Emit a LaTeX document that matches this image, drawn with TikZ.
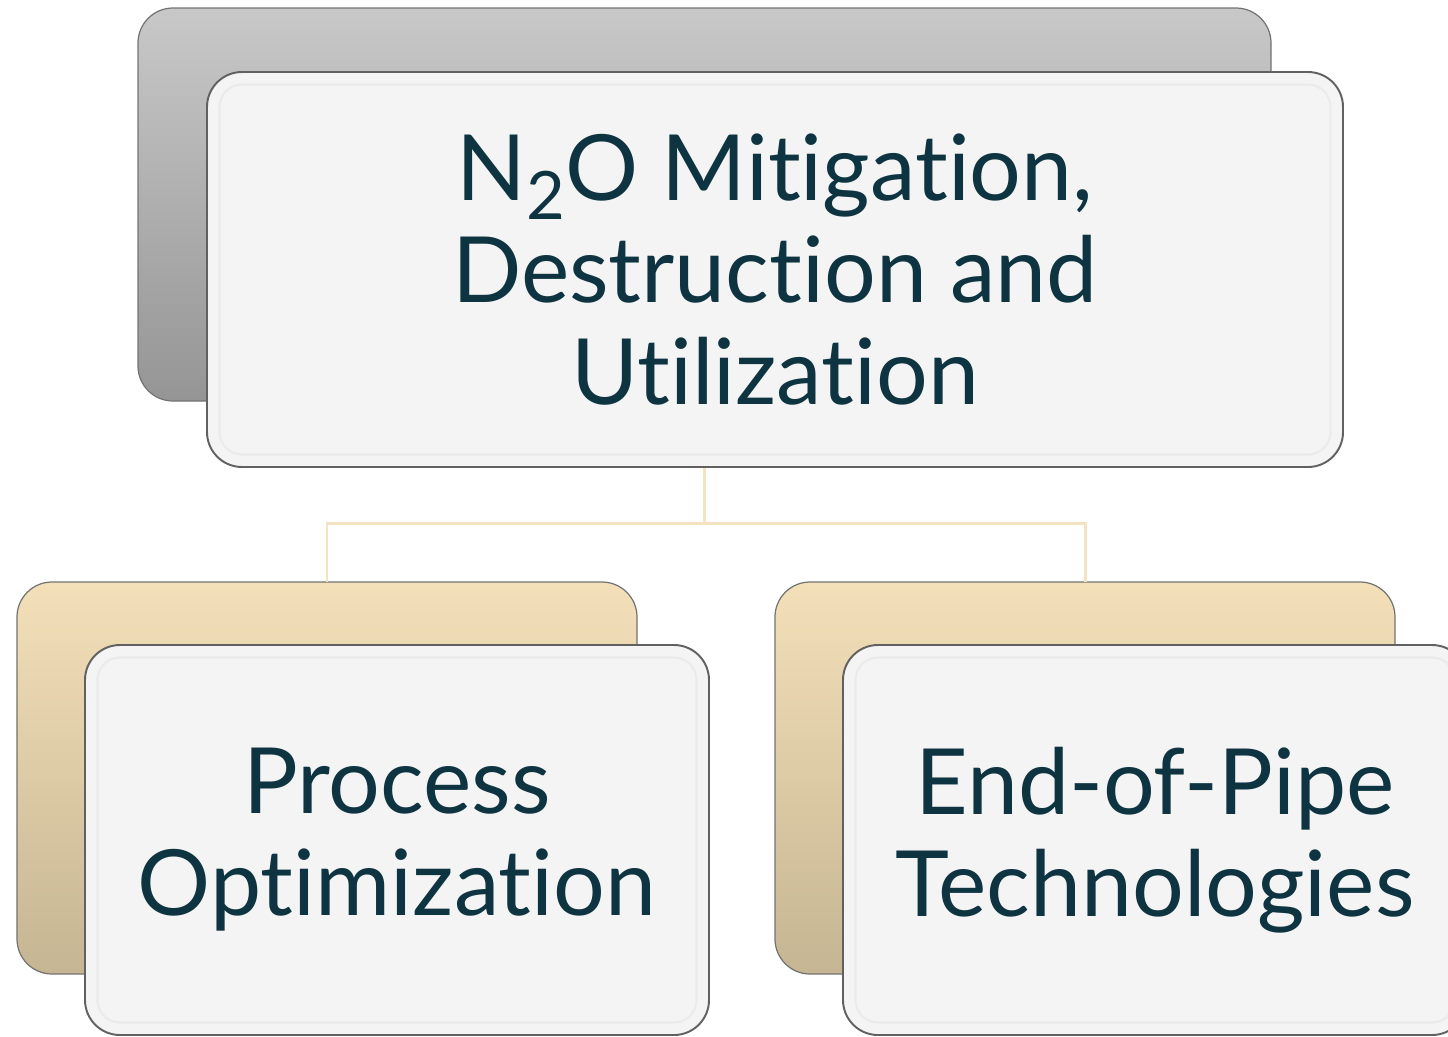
\documentclass[tikz,border=0pt]{standalone}
\usepackage{fontspec}
\setmainfont{Lato}[Ligatures={NoCommon}]
\usepackage{xcolor}
\definecolor{textcol}{HTML}{0E3441}
\definecolor{greytop}{HTML}{C8C8C8}
\definecolor{greybot}{HTML}{959595}
\definecolor{tantop}{HTML}{F3E0B9}
\definecolor{tanbot}{HTML}{C6B592}
\definecolor{frontfill}{HTML}{F4F4F4}
\definecolor{linkcol}{HTML}{F3E3C2}
\tikzset{
	backbox/.style={rounded corners=0.7cm, draw=black!55, line width=0.7pt, inner sep=0pt, outer sep=0pt},
	frontbox/.style={rounded corners=0.7cm, draw=black!62, line width=1.1pt, fill=frontfill,
		inner sep=0pt, outer sep=0pt, text=textcol, align=center, font=\fontsize{52}{58}\selectfont},
	bevel/.style={rounded corners=0.45cm, draw=black!8, line width=1.2pt},
	link/.style={draw=linkcol, line width=1.7pt}
}

\begin{document}
\begin{tikzpicture}
		\useasboundingbox (0, 0) rectangle (28.96, -20.72);
		\clip (0, 0) rectangle (28.96, -20.72);
		% back boxes
		\node [backbox, top color=greytop, bottom color=greybot,
			minimum width=22.66cm, minimum height=7.86cm] (topback) at (14.09, -4.09) {};
		\node [backbox, top color=tantop, bottom color=tanbot,
			minimum width=12.4cm, minimum height=7.84cm] (procback) at (6.54, -15.56) {};
		\node [backbox, top color=tantop, bottom color=tanbot,
			minimum width=12.4cm, minimum height=7.84cm] (eopback) at (21.7, -15.56) {};
		% connectors
		\draw [link] (topback.south) -- ++(0, -2.44) coordinate (split);
		\draw [link] (split) -| (procback.north);
		\draw [link] (split) -| (eopback.north);
		% front boxes
		\node [frontbox, minimum width=22.72cm, minimum height=7.9cm] (top) at (15.5, -5.39)
			{N\raisebox{-0.4ex}{\fontsize{38}{38}\selectfont 2}O Mitigation,\\Destruction and\\Utilization};
		\node [frontbox, minimum width=12.48cm, minimum height=7.8cm] (procopt) at (7.94, -16.8)
			{Process\\Optimization};
		\node [frontbox, minimum width=12.48cm, minimum height=7.8cm] (eop) at (23.1, -16.8)
			{End-of-Pipe\\Technologies};
		\foreach \n in {top, procopt, eop}
			\draw [bevel] ([xshift=0.25cm, yshift=-0.25cm]\n.north west) rectangle
				([xshift=-0.25cm, yshift=0.25cm]\n.south east);
	\end{tikzpicture}
\end{document}
